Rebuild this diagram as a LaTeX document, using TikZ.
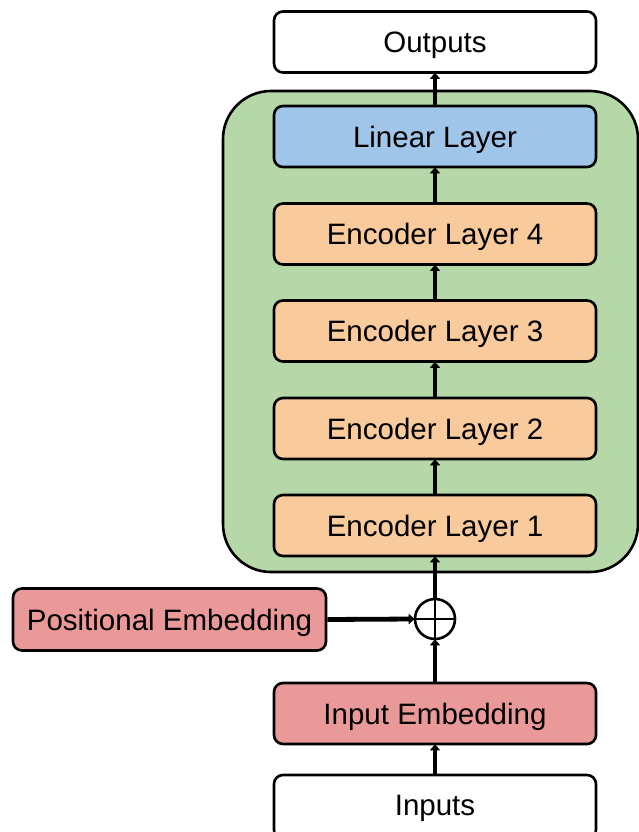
\documentclass[tikz,border=0pt]{standalone}
\usepackage{fontspec}
\setmainfont{Liberation Sans}
\usetikzlibrary{arrows.meta}
\definecolor{gBg}{HTML}{B6D7A8}
\definecolor{bBox}{HTML}{9FC5E8}
\definecolor{oBox}{HTML}{F9CB9C}
\definecolor{rBox}{HTML}{EA9999}
\tikzset{
  lbl/.style={font=\fontsize{29.5}{34}\selectfont, text height=21pt, text depth=0pt},
  blk/.style={draw=black, line width=2.6pt, rounded corners=9pt,
    minimum width=322pt, minimum height=61pt, inner sep=0pt, lbl},
  flow/.style={line width=4.8pt, -{Triangle[width=10pt,length=6pt]}, shorten >=-1pt},
}
\begin{document}
\begin{tikzpicture}[x=1pt,y=-1pt]
  \useasboundingbox (0,0) rectangle (639,832);
  \clip (0,0) rectangle (639,832);
  % encoder stack container
  \draw[fill=gBg, line width=2.6pt, rounded corners=48pt] (223,91) rectangle (638,572);
  % blocks
  \node[blk, fill=white] (out) at (435,42) {Outputs};
  \node[blk, fill=bBox] (lin) at (435,136.5) {Linear Layer};
  \node[blk, fill=oBox] (e4) at (435,234) {Encoder Layer 4};
  \node[blk, fill=oBox] (e3) at (435,331) {Encoder Layer 3};
  \node[blk, fill=oBox] (e2) at (435,428.5) {Encoder Layer 2};
  \node[blk, fill=oBox] (e1) at (435,525.5) {Encoder Layer 1};
  \node[circle, draw=black, line width=2.6pt, minimum size=40pt, inner sep=0pt] (add) at (435,619) {};
  \draw[line width=2.2pt] (add.north) -- (add.south) (add.west) -- (add.east);
  \node[blk, fill=rBox, minimum width=313pt, minimum height=62pt] (pos) at (169.5,619.5) {Positional Embedding};
  \node[blk, fill=rBox] (emb) at (435,713.5) {Input Embedding};
  \node[blk, fill=white, minimum height=64pt] (inp) at (435,807) {};
  \node[lbl] (inptxt) at (435,805) {Inputs};
  % data flow
  \draw[flow] (inp.north) -- (emb.south);
  \draw[flow] (emb.north) -- (add.south);
  \draw[flow] (pos.east) -- (add.west);
  \draw[flow] (add.north) -- (e1.south);
  \draw[flow] (e1.north) -- (e2.south);
  \draw[flow] (e2.north) -- (e3.south);
  \draw[flow] (e3.north) -- (e4.south);
  \draw[flow] (e4.north) -- (lin.south);
  \draw[flow] (lin.north) -- (out.south);
\end{tikzpicture}
\end{document}
